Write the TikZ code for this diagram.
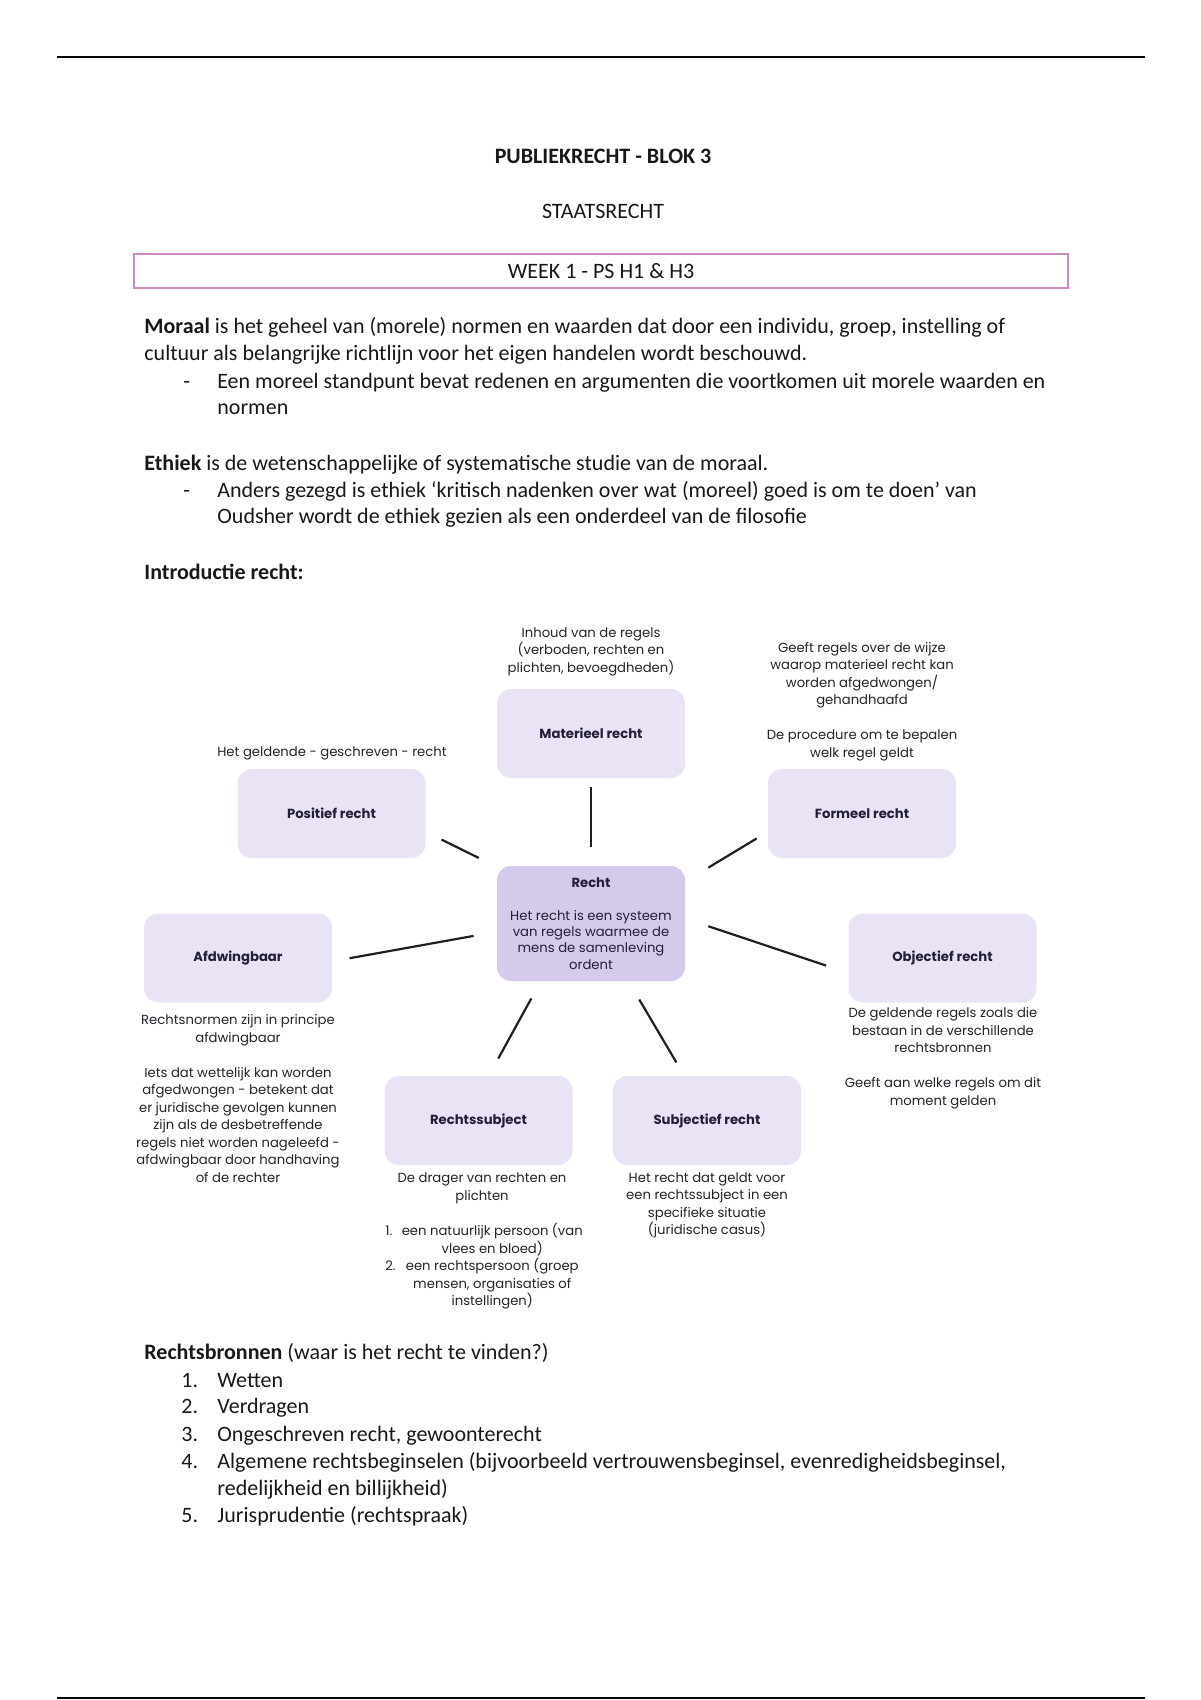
\documentclass[tikz,border=0pt]{standalone}
\usepackage{fontspec}
\setmainfont{Carlito}
\newfontfamily\diafont{Poppins}
\usetikzlibrary{positioning}
\definecolor{boxfill}{RGB}{234,227,246}
\definecolor{hubfill}{RGB}{214,202,236}
\definecolor{weekframe}{RGB}{200,140,190}
\definecolor{bodytext}{RGB}{24,24,24}
\definecolor{diatext}{RGB}{36,34,42}
\definecolor{titletext}{RGB}{36,30,54}

\begin{document}
\begin{tikzpicture}[x=0.5pt,y=-0.5pt,
		body/.style={anchor=base west,inner sep=0pt,text=bodytext,font=\fontsize{11}{13.4}\selectfont},
		rechtbox/.style={fill=boxfill,rounded corners=7pt,minimum width=94pt,minimum height=44.5pt,text=titletext,font=\diafont\bfseries\fontsize{6.6}{8}\selectfont},
		hub/.style={rechtbox,fill=hubfill,minimum height=57.5pt,align=center,font=\diafont\fontsize{6.6}{8.15}\selectfont},
		lbl/.style={inner sep=0pt,align=center,text=diatext,font=\diafont\fontsize{6.6}{8.75}\selectfont},
		link/.style={line width=1.1pt,draw=black!88}]
		\useasboundingbox (0,0) rectangle (1200,1700);
		\draw[line width=1pt] (57,57) -- (1145,57);
		\draw[line width=1pt] (57,1698) -- (1145,1698);
		%header
		\node[body,anchor=base,font=\bfseries\fontsize{11}{13.4}\selectfont] (title) at (603,164) {PUBLIEKRECHT - BLOK 3};
		\node[body,anchor=base] (subtitle) at (603,219) {STAATSRECHT};
		\node[draw=weekframe,line width=0.8pt,minimum width=467pt,minimum height=17pt,inner sep=0pt,text=bodytext,font=\fontsize{11}{13.4}\selectfont] (week) at (601,271) {WEEK 1 - PS H1 \& H3};
		%tekst
		\node[body] (moraal1) at (144,334) {\textbf{Moraal} is het geheel van (morele) normen en waarden dat door een individu, groep, instelling of};
		\node[body] (moraal2) at (144,361) {cultuur als belangrijke richtlijn voor het eigen handelen wordt beschouwd.};
		\node[body] (dash1) at (183,389) {-};
		\node[body] (moraal3) at (217,389) {Een moreel standpunt bevat redenen en argumenten die voortkomen uit morele waarden en};
		\node[body] (moraal4) at (217,415) {normen};
		\node[body] (ethiek1) at (144,470) {\textbf{Ethiek} is de wetenschappelijke of systematische studie van de moraal.};
		\node[body] (dash2) at (183,497.5) {-};
		\node[body] (ethiek2) at (217,497.5) {Anders gezegd is ethiek ‘kritisch nadenken over wat (moreel) goed is om te doen’ van};
		\node[body] (ethiek3) at (217,523.5) {Oudsher wordt de ethiek gezien als een onderdeel van de filosofie};
		\node[body] (intro) at (144,579) {\textbf{Introductie recht:}};
		%diagram
		\node[hub] (recht) at (591,923.5) {\textbf{Recht}\\[8.15pt]Het recht is een systeem\\van regels waarmee de\\mens de samenleving\\ordent};
		\node[rechtbox] (mat) at (591,733.5) {Materieel recht};
		\node[rechtbox] (pos) at (331.5,813.5) {Positief recht};
		\node[rechtbox] (form) at (862,813.5) {Formeel recht};
		\node[rechtbox] (afd) at (238,958) {Afdwingbaar};
		\node[rechtbox] (obj) at (942.5,958) {Objectief recht};
		\node[rechtbox] (rs) at (478.5,1120.5) {Rechtssubject};
		\node[rechtbox] (sr) at (707,1120.5) {Subjectief recht};
		\draw[link,shorten <=4.3pt,shorten >=9.5pt] (mat.south) -- (recht.north);
		\draw[link,shorten <=8.7pt,shorten >=9.9pt] (pos.-11) -- (recht.149);
		\draw[link,shorten <=6.4pt,shorten >=13.4pt] (form.191) -- (recht.24);
		\draw[link,shorten <=8.7pt,shorten >=11.7pt] (afd.-2) -- (recht.185);
		\draw[link,shorten <=12.1pt,shorten >=11.6pt] (recht.3) -- (obj.189);
		\draw[link,shorten <=9.7pt,shorten >=9.7pt] (recht.229) -- (rs.77);
		\draw[link,shorten <=10.5pt,shorten >=7.6pt] (recht.-57) -- (sr.117);
		\node[lbl] (matlab) at (591,651.5) {Inhoud van de regels\\(verboden, rechten en\\plichten, bevoegdheden)};
		\node[lbl] (poslab) at (332,753) {Het geldende - geschreven - recht};
		\node[lbl] (formlab) at (862,701.5) {Geeft regels over de wijze\\waarop materieel recht kan\\worden afgedwongen/\\gehandhaafd\\[8.75pt]De procedure om te bepalen\\welk regel geldt};
		\node[lbl] (afdlab) at (238,1098.5) {Rechtsnormen zijn in principe\\afdwingbaar\\[8.75pt]Iets dat wettelijk kan worden\\afgedwongen - betekent dat\\er juridische gevolgen kunnen\\zijn als de desbetreffende\\regels niet worden nageleefd -\\afdwingbaar door handhaving\\of de rechter};
		\node[lbl] (objlab) at (943,1058) {De geldende regels zoals die\\bestaan in de verschillende\\rechtsbronnen\\[8.75pt]Geeft aan welke regels om dit\\moment gelden};
		\node[lbl] (rslab) at (482,1188.5) {De drager van rechten en\\plichten};
		\node[lbl,anchor=west] (rslist) at (385,1267) {\begin{tabular}{@{}l@{\hspace{3pt}}c@{}}1. & een natuurlijk persoon (van\\ & vlees en bloed)\\2. & een rechtspersoon (groep\\ & mensen, organisaties of\\ & instellingen)\end{tabular}};
		\node[lbl] (srlab) at (707,1205.5) {Het recht dat geldt voor\\een rechtssubject in een\\specifieke situatie\\(juridische casus)};
		%rechtsbronnen
		\node[body] (bronnen) at (144,1359) {\textbf{Rechtsbronnen} (waar is het recht te vinden?)};
		\node[body] (nr1) at (181,1387) {1.};
		\node[body] (bron1) at (217,1387) {Wetten};
		\node[body] (nr2) at (181,1413) {2.};
		\node[body] (bron2) at (217,1413) {Verdragen};
		\node[body] (nr3) at (181,1441) {3.};
		\node[body] (bron3) at (217,1441) {Ongeschreven recht, gewoonterecht};
		\node[body] (nr4) at (181,1468) {4.};
		\node[body] (bron4) at (217,1468) {Algemene rechtsbeginselen (bijvoorbeeld vertrouwensbeginsel, evenredigheidsbeginsel,};
		\node[body] (bron4b) at (217,1495) {redelijkheid en billijkheid)};
		\node[body] (nr5) at (181,1522) {5.};
		\node[body] (bron5) at (217,1522) {Jurisprudentie (rechtspraak)};
	\end{tikzpicture}
\end{document}
